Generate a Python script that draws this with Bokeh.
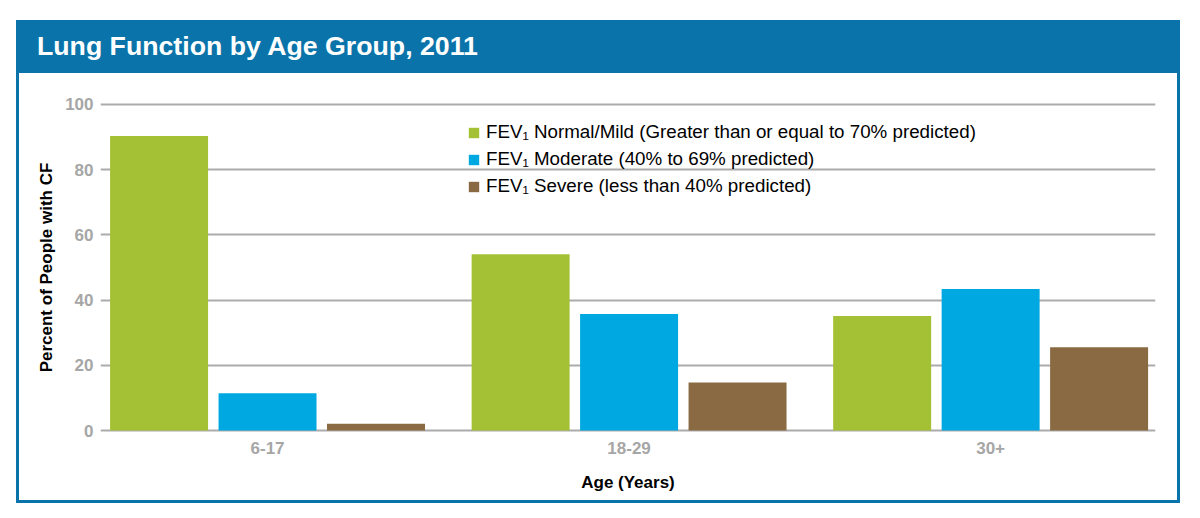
from bokeh.plotting import figure
from bokeh.layouts import column
from bokeh.models import (ColumnDataSource, Range1d, FixedTicker, Legend, LegendItem, Div)
from bokeh.transform import dodge
from bokeh.embed import file_html
from bokeh.resources import INLINE

# ---- data ----
age_groups = ["6-17", "18-29", "30+"]
normal_mild = [90.3, 54.1, 35.1]
moderate = [11.4, 35.7, 43.4]
severe = [2.1, 14.7, 25.5]
series_labels = [
    "FEV\u2081 Normal/Mild (Greater than or equal to 70% predicted)",
    "FEV\u2081 Moderate (40% to 69% predicted)",
    "FEV\u2081 Severe (less than 40% predicted)",
]
y_ticks = [0, 20, 40, 60, 80, 100]
title_text = "Lung Function by Age Group, 2011"

# ---- style ----
GREEN = "#A4C034"
BLUE = "#00A8E1"
BROWN = "#8A6A42"
FRAME_BLUE = "#0A74AA"
GRID = "#ABABAB"
TICK_GRAY = "#A6A6A6"
FONT = "Liberation Sans"

W, H = 1158, 427

src = ColumnDataSource(dict(x=list(range(len(age_groups))), normal=normal_mild,
                            moderate=moderate, severe=severe))

p = figure(width=W, height=H, output_backend="svg", toolbar_location=None,
           x_range=Range1d(-0.462, 2.456), y_range=Range1d(-0.613, 100.613),
           min_border_left=81, min_border_right=22, min_border_top=29, min_border_bottom=68,
           margin=0)
p.background_fill_color = "white"
p.border_fill_color = "white"
p.outline_line_color = None

off = 0.300
bw = 0.271
r1 = p.vbar(x=dodge("x", -off, range=p.x_range), top="normal", width=bw, source=src,
            fill_color=GREEN, line_color=None)
r2 = p.vbar(x=dodge("x", 0.0, range=p.x_range), top="moderate", width=bw, source=src,
            fill_color=BLUE, line_color=None)
r3 = p.vbar(x=dodge("x", off, range=p.x_range), top="severe", width=bw, source=src,
            fill_color=BROWN, line_color=None)

# axes
p.xaxis.ticker = FixedTicker(ticks=list(range(len(age_groups))))
p.xaxis.major_label_overrides = {i: g for i, g in enumerate(age_groups)}
p.yaxis.ticker = FixedTicker(ticks=y_ticks)
for ax in (p.xaxis[0], p.yaxis[0]):
    ax.axis_line_color = None
    ax.major_tick_line_color = None
    ax.minor_tick_line_color = None
    ax.major_tick_out = 0
    ax.major_tick_in = 0
    ax.major_label_text_font = FONT
    ax.major_label_text_font_style = "bold"
    ax.major_label_text_color = TICK_GRAY
    ax.major_label_text_font_size = "17px"
    ax.axis_label_text_font = FONT
    ax.axis_label_text_font_style = "bold"
    ax.axis_label_text_color = "black"
    ax.axis_label_text_font_size = "17px"
p.yaxis.axis_label = "Percent of People with CF"
p.xaxis.axis_label = "Age (Years)"
p.yaxis.major_label_standoff = 7
p.yaxis.axis_label_standoff = 6
p.xaxis.major_label_standoff = 9
p.xaxis.axis_label_standoff = 16

p.xgrid.grid_line_color = None
p.ygrid.grid_line_color = GRID
p.ygrid.grid_line_width = 2

# legend
legend = Legend(items=[LegendItem(label=series_labels[0], renderers=[r1]),
                       LegendItem(label=series_labels[1], renderers=[r2]),
                       LegendItem(label=series_labels[2], renderers=[r3])],
                location=(367, 235))
legend.padding = 0
legend.margin = 0
legend.spacing = 5
legend.glyph_width = 13
legend.glyph_height = 13
legend.label_height = 21
legend.label_standoff = 6
legend.label_text_font = FONT
legend.label_text_font_size = "18.75px"
legend.label_text_color = "black"
legend.background_fill_alpha = 0
legend.border_line_color = None
p.add_layout(legend)

# title bar
title = Div(text=title_text, width=W, height=50, margin=0,
            styles={"background-color": FRAME_BLUE, "color": "white",
                    "font-family": FONT, "font-weight": "bold", "font-size": "26.7px",
                    "line-height": "46px", "padding-left": "18px",
                    "box-sizing": "border-box", "white-space": "nowrap"})

layout = column(title, p, spacing=0, margin=(20, 0, 0, 16),
                styles={"border": f"3px solid {FRAME_BLUE}", "background-color": "white"})

open("out.html", "w").write(file_html(layout, INLINE))
